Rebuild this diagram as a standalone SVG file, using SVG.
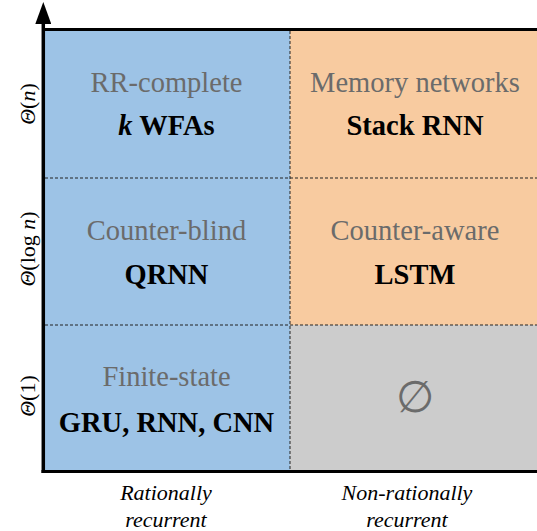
<svg xmlns="http://www.w3.org/2000/svg" width="537" height="531" viewBox="0 0 537 531">
<defs>
<style>
.cat{font-family:"Liberation Serif","Times New Roman",serif;font-size:28.5px;fill:#6b6b6b;text-anchor:middle}
.mod{font-family:"Liberation Serif","Times New Roman",serif;font-size:28.5px;font-weight:bold;fill:#000;text-anchor:middle}
.ax{font-family:"Liberation Serif","Times New Roman",serif;font-size:22px;fill:#000;text-anchor:middle}
.it{font-style:italic}
.grid{stroke:#222;stroke-width:1;stroke-dasharray:3 2;fill:none}
</style>
<marker id="arr" viewBox="0 0 22 16" refX="2" refY="8" markerWidth="22" markerHeight="16" markerUnits="userSpaceOnUse" orient="auto">
<path d="M0,0 L22,8 L0,16 Z" fill="#000"/>
</marker>
</defs>
<g id="cell-rr-complete">
<rect x="43" y="30" width="247" height="148" fill="#9dc3e6"/>
<text class="cat" x="166.5" y="92">RR-complete</text>
<text class="mod" x="166.5" y="135"><tspan font-style="italic">k</tspan> WFAs</text>
</g>
<g id="cell-memory">
<rect x="290" y="30" width="247" height="148" fill="#f8cba0"/>
<text class="cat" x="415" y="92">Memory networks</text>
<text class="mod" x="415" y="135">Stack RNN</text>
</g>
<g id="cell-counter-blind">
<rect x="43" y="178" width="247" height="147" fill="#9dc3e6"/>
<text class="cat" x="166.5" y="240">Counter-blind</text>
<text class="mod" x="166.5" y="284">QRNN</text>
</g>
<g id="cell-counter-aware">
<rect x="290" y="178" width="247" height="147" fill="#f8cba0"/>
<text class="cat" x="415" y="240">Counter-aware</text>
<text class="mod" x="415" y="284">LSTM</text>
</g>
<g id="cell-finite-state">
<rect x="43" y="325" width="247" height="146" fill="#9dc3e6"/>
<text class="cat" x="166.5" y="386">Finite-state</text>
<text class="mod" x="166.5" y="432">GRU, RNN, CNN</text>
</g>
<g id="cell-empty">
<rect x="290" y="325" width="247" height="146" fill="#cccccc"/>
<text class="cat" x="415" y="412" style="font-size:44px">∅</text>
</g>
<g id="connectors">
<line class="grid" x1="290" y1="31" x2="290" y2="470"/>
<line class="grid" x1="45" y1="178" x2="537" y2="178"/>
<line class="grid" x1="45" y1="325" x2="537" y2="325"/>
<line x1="43" y1="29.5" x2="537" y2="29.5" stroke="#000" stroke-width="3"/>
<line x1="41.5" y1="471.5" x2="537" y2="471.5" stroke="#000" stroke-width="3"/>
<line x1="43.3" y1="473" x2="43.3" y2="22" stroke="#000" stroke-width="3.5" marker-end="url(#arr)"/>
</g>
<g id="y-labels">
<text class="ax" transform="translate(35,104) rotate(-90)"><tspan class="it">Θ</tspan>(<tspan class="it">n</tspan>)</text>
<text class="ax" transform="translate(35,249) rotate(-90)"><tspan class="it">Θ</tspan>(log <tspan class="it">n</tspan>)</text>
<text class="ax" transform="translate(35,396) rotate(-90)"><tspan class="it">Θ</tspan>(1)</text>
</g>
<g id="x-labels">
<text class="ax it" x="166" y="500">Rationally</text>
<text class="ax it" x="166" y="527">recurrent</text>
<text class="ax it" x="407" y="500">Non-rationally</text>
<text class="ax it" x="407" y="527">recurrent</text>
</g>
</svg>
